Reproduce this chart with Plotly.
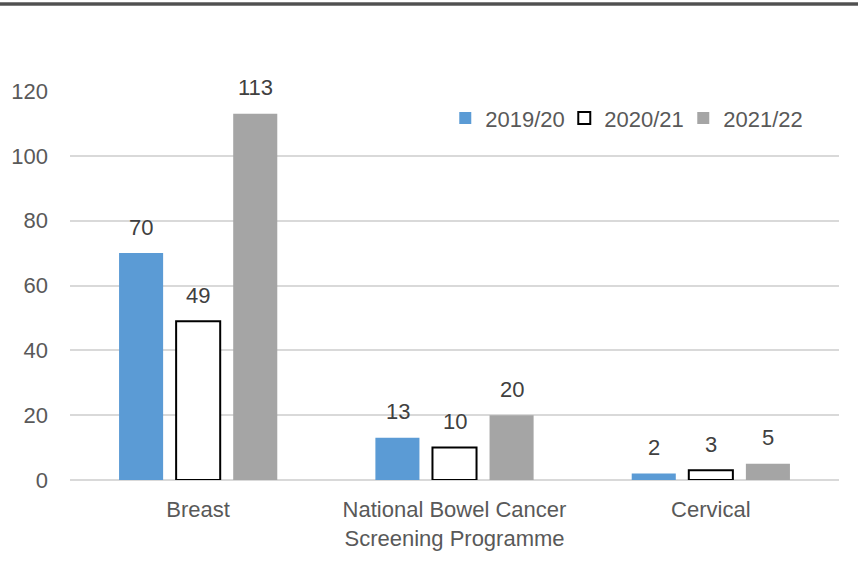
import plotly.graph_objects as go

categories = ["Breast", "National Bowel Cancer<br>Screening Programme", "Cervical"]
series_names = ["2019/20", "2020/21", "2021/22"]
values_2019 = [70, 13, 2]
values_2020 = [49, 10, 3]
values_2021 = [113, 20, 5]
y_ticks = [0, 20, 40, 60, 80, 100, 120]

FONT = "Liberation Sans"
TXT = "#595959"
SIZE = 22

fig = go.Figure()
fig.add_trace(go.Bar(name=series_names[0], x=categories, y=values_2019,
                     marker=dict(color="#5b9bd5", line=dict(width=0))))
fig.add_trace(go.Bar(name=series_names[1], x=categories, y=values_2020,
                     marker=dict(color="#ffffff", line=dict(color="#000000", width=2))))
fig.add_trace(go.Bar(name=series_names[2], x=categories, y=values_2021,
                     marker=dict(color="#a5a5a5", line=dict(width=0))))

annotations = []
for shift, vals in zip([-57, 0, 57], [values_2019, values_2020, values_2021]):
    for c, v in zip(categories, vals):
        annotations.append(dict(x=c, y=v, text=str(v), showarrow=False, xshift=shift,
                                yshift=26, font=dict(family=FONT, size=SIZE, color="#404040")))

ytop = (480 - 4) / 389
fig.update_layout(
    width=858, height=577,
    margin=dict(l=70, r=19, t=91, b=97, autoexpand=False),
    paper_bgcolor="white", plot_bgcolor="white",
    barmode="group", bargap=0.332, bargroupgap=0.228,
    font=dict(family=FONT, size=SIZE, color=TXT),
    legend=dict(orientation="h", x=0.488, y=0.93, xanchor="left", yanchor="middle",
                font=dict(family=FONT, size=SIZE, color=TXT), bgcolor="rgba(0,0,0,0)",
                itemwidth=30, traceorder="normal", entrywidth=74, entrywidthmode="pixels"),
    annotations=annotations,
    shapes=[
        dict(type="line", xref="paper", yref="paper", x0=-0.2, x1=1.2,
             y0=ytop, y1=ytop, line=dict(color="black", width=3)),
        dict(type="line", xref="paper", yref="paper", x0=-0.2, x1=1.2,
             y0=ytop, y1=ytop, line=dict(color="#a0a0a0", width=1)),
    ],
)
fig.update_yaxes(range=[0, 120], tickvals=y_ticks, showgrid=True, gridcolor="#d9d9d9",
                 gridwidth=1.5, zeroline=True, zerolinecolor="#d9d9d9", zerolinewidth=1.5,
                 showline=False, ticks="", ticklabelstandoff=21,
                 tickfont=dict(size=SIZE, color=TXT))
fig.update_xaxes(showline=False, ticks="", ticklabelstandoff=14,
                 tickfont=dict(size=SIZE, color=TXT))

fig.write_html("out.html", config={"displayModeBar": False},
               post_script="document.body.style.margin='0';")
